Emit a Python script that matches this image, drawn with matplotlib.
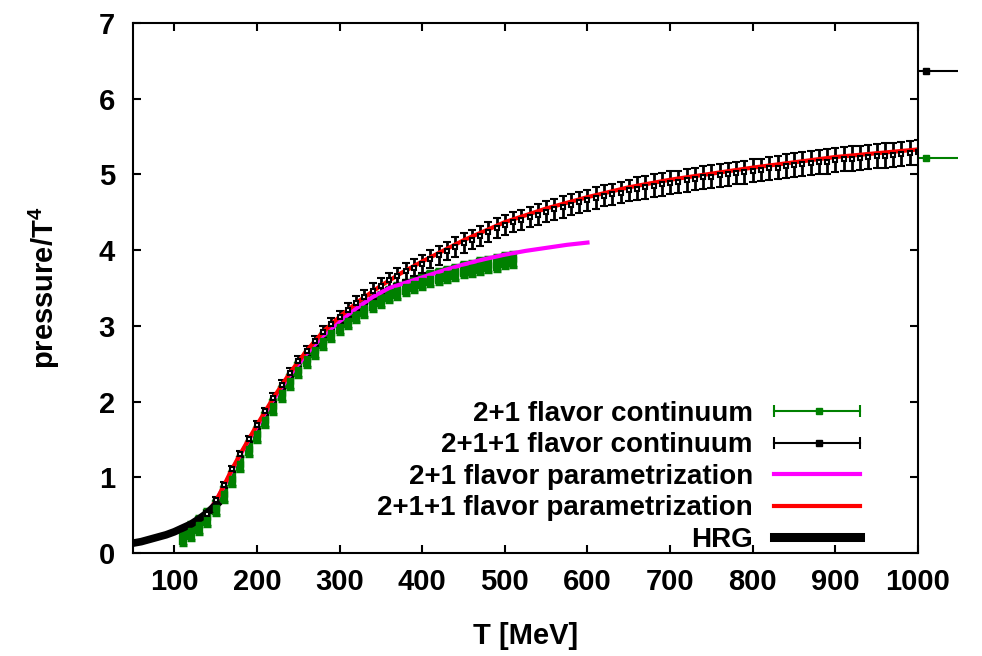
import numpy as np
import matplotlib
matplotlib.use("Agg")
import matplotlib.pyplot as plt
from matplotlib.lines import Line2D
from matplotlib.legend_handler import HandlerBase

plt.rcParams['font.family'] = ['Liberation Sans', 'DejaVu Sans']
plt.rcParams['font.weight'] = 'bold'
plt.rcParams['mathtext.default'] = 'regular'

# 2+1 flavor continuum (lattice, every 10 MeV)
T_21 = np.arange(110, 511, 10)
p_21 = [0.22, 0.29, 0.37, 0.47, 0.60, 0.78, 0.98, 1.18, 1.38, 1.57,
        1.76, 1.94, 2.11, 2.27, 2.42, 2.56, 2.68, 2.80, 2.90, 2.99,
        3.07, 3.15, 3.22, 3.29, 3.35, 3.41, 3.46, 3.51, 3.55, 3.59,
        3.62, 3.65, 3.68, 3.71, 3.74, 3.76, 3.79, 3.81, 3.83, 3.86,
        3.88]
e_21 = [0.12, 0.12, 0.12, 0.11, 0.10, 0.10, 0.10, 0.10, 0.10, 0.10,
        0.10, 0.10, 0.10, 0.10, 0.10, 0.10, 0.10, 0.10, 0.10, 0.10,
        0.10, 0.10, 0.10, 0.10, 0.10, 0.10, 0.10, 0.10, 0.10, 0.10,
        0.10, 0.10, 0.10, 0.10, 0.10, 0.10, 0.10, 0.10, 0.10, 0.10,
        0.10]

# 2+1+1 flavor continuum (every 10 MeV)
T_211 = np.arange(140, 1001, 10)
p_211 = [0.52, 0.70, 0.90, 1.11, 1.31, 1.50, 1.69, 1.87, 2.05, 2.22,
         2.38, 2.53, 2.67, 2.80, 2.92, 3.03, 3.12, 3.21, 3.30, 3.38,
         3.46, 3.53, 3.60, 3.66, 3.72, 3.77, 3.82, 3.88, 3.93, 3.99,
         4.04, 4.09, 4.14, 4.19, 4.24, 4.29, 4.33, 4.37, 4.40, 4.44,
         4.47, 4.51, 4.54, 4.57, 4.60, 4.63, 4.66, 4.69, 4.72, 4.74,
         4.76, 4.79, 4.81, 4.83, 4.85, 4.87, 4.89, 4.90, 4.92, 4.94,
         4.96, 4.97, 4.99, 5.00, 5.02, 5.03, 5.05, 5.06, 5.08, 5.09,
         5.11, 5.12, 5.14, 5.15, 5.16, 5.17, 5.19, 5.20, 5.21, 5.22,
         5.23, 5.24, 5.25, 5.26, 5.27, 5.28, 5.29]
e_211 = [0.04, 0.04, 0.04, 0.04, 0.04, 0.04, 0.05, 0.05, 0.06, 0.06,
         0.06, 0.07, 0.07, 0.07, 0.08, 0.08, 0.08, 0.09, 0.09, 0.09,
         0.10, 0.10, 0.10, 0.11, 0.11, 0.11, 0.12, 0.12, 0.12, 0.12,
         0.13, 0.13, 0.13, 0.13, 0.13, 0.13, 0.13, 0.13, 0.13, 0.13,
         0.14, 0.14, 0.14, 0.14, 0.14, 0.14, 0.14, 0.14, 0.14, 0.14,
         0.14, 0.14, 0.15, 0.15, 0.15, 0.15, 0.15, 0.15, 0.15, 0.15,
         0.15, 0.15, 0.15, 0.15, 0.15, 0.15, 0.15, 0.15, 0.15, 0.15,
         0.16, 0.16, 0.16, 0.16, 0.16, 0.16, 0.16, 0.16, 0.16, 0.16,
         0.16, 0.16, 0.16, 0.16, 0.16, 0.16, 0.16]

# parametrizations
T_par21 = [140, 150, 160, 170, 180, 190, 200, 220, 240, 260, 280, 300,
           320, 340, 360, 380, 400, 425, 450, 475, 500, 525, 550, 575, 600]
p_par21 = [0.53, 0.68, 0.88, 1.10, 1.30, 1.49, 1.67, 2.03, 2.35, 2.63,
           2.87, 3.06, 3.23, 3.38, 3.50, 3.57, 3.64, 3.73, 3.81, 3.88,
           3.94, 3.99, 4.03, 4.07, 4.10]
T_par211 = [140, 150, 160, 170, 180, 190, 200, 220, 240, 260, 280, 300,
            325, 350, 375, 400, 450, 500, 550, 600, 650, 700, 750, 800,
            850, 900, 950, 1000]
p_par211 = [0.53, 0.68, 0.89, 1.11, 1.31, 1.50, 1.69, 2.05, 2.38, 2.67,
            2.92, 3.12, 3.34, 3.53, 3.70, 3.85, 4.13, 4.37, 4.55, 4.70,
            4.83, 4.93, 5.01, 5.09, 5.16, 5.23, 5.28, 5.33]

# hadron resonance gas
T_hrg = [50, 60, 70, 80, 90, 100, 110, 120, 130, 140, 150, 155]
p_hrg = [0.13, 0.15, 0.18, 0.21, 0.24, 0.28, 0.33, 0.38, 0.45, 0.53, 0.63, 0.68]

# values beyond the axis (right side)
T_lim = [1010, 1010]
p_lim = [6.37, 5.22]
lim_colors = ['black', '#008000']

green = '#008000'


class HandlerXErr(HandlerBase):
    def create_artists(self, legend, orig_handle, xdescent, ydescent,
                       width, height, fontsize, trans):
        c = orig_handle.get_color()
        y = height / 2 - ydescent
        x0, x1 = -xdescent, width - xdescent
        line = Line2D([x0, x1], [y, y], color=c, lw=1.5, transform=trans)
        caps = Line2D([x0, x1], [y, y], ls='none', marker='|', ms=9,
                      mew=1.5, color=c, transform=trans)
        pt = Line2D([x0 + 0.52 * width], [y], ls='none', marker='s',
                    ms=orig_handle.get_markersize(), color=c, transform=trans)
        return [line, caps, pt]


fig = plt.figure(figsize=(9.82, 6.56), dpi=100)
ax = fig.add_axes([133 / 982, 1 - 553 / 656, 785 / 982, 530 / 656])

ax.errorbar(T_21, p_21, yerr=e_21, fmt='s', color=green, ms=5,
            elinewidth=6.0, capsize=3, capthick=2.5)
ax.errorbar(T_211, p_211, yerr=e_211, fmt='s', color='black', ms=3.5,
            mfc='white', mew=1.5, elinewidth=2.0, capsize=3.0, capthick=2.0)
ax.plot(T_par21, p_par21, color='#ff00ff', lw=3)
ax.plot(T_par211, p_par211, color='#ff0000', lw=3)
ax.plot(T_hrg, p_hrg, color='black', lw=5.5, solid_capstyle='butt')

for t, p, c in zip(T_lim, p_lim, lim_colors):
    eb = ax.errorbar([t], [p], xerr=[[10], [38]], fmt='s', color=c, ms=5,
                     elinewidth=1.5, capsize=0)
    for a in eb.get_children():
        a.set_clip_on(False)

ax.set_xlim(50, 1000)
ax.set_ylim(0, 7)
ax.set_xticks(range(100, 1001, 100))
ax.set_yticks(range(0, 8))

ax.tick_params(direction='in', top=True, right=True, length=6, width=1.5,
               labelsize=21)
ax.tick_params(axis='x', pad=11)
ax.tick_params(axis='y', pad=13)
for s in ax.spines.values():
    s.set_linewidth(1.5)

ax.set_xlabel('T [MeV]', fontsize=21, fontweight='bold')
ax.set_ylabel('pressure/T$^4$', fontsize=21, fontweight='bold')
ax.xaxis.set_label_coords(0.5, -0.13)
ax.yaxis.set_label_coords(-0.09, 0.5)

h_21 = Line2D([], [], color=green, ms=5)
h_211 = Line2D([], [], color='black', ms=4)
h_p21 = Line2D([], [], color='#ff00ff', lw=3)
h_p211 = Line2D([], [], color='#ff0000', lw=3)
h_hrg = Line2D([], [], color='black', lw=6.5)
leg = ax.legend([h_21, h_211, h_p21, h_p211, h_hrg],
                ['2+1 flavor continuum', '2+1+1 flavor continuum',
                 '2+1 flavor parametrization', '2+1+1 flavor parametrization',
                 'HRG'],
                handler_map={h_21: HandlerXErr(), h_211: HandlerXErr()},
                loc='lower right', bbox_to_anchor=(0.926, 0.0),
                frameon=False, markerfirst=False,
                prop={'size': 20, 'weight': 'bold'},
                handlelength=3.1, handletextpad=0.75, labelspacing=0.2,
                borderpad=0, borderaxespad=0)
leg._legend_box._children[-1]._children[0].align = 'right'

fig.savefig('out.png', dpi=100)
